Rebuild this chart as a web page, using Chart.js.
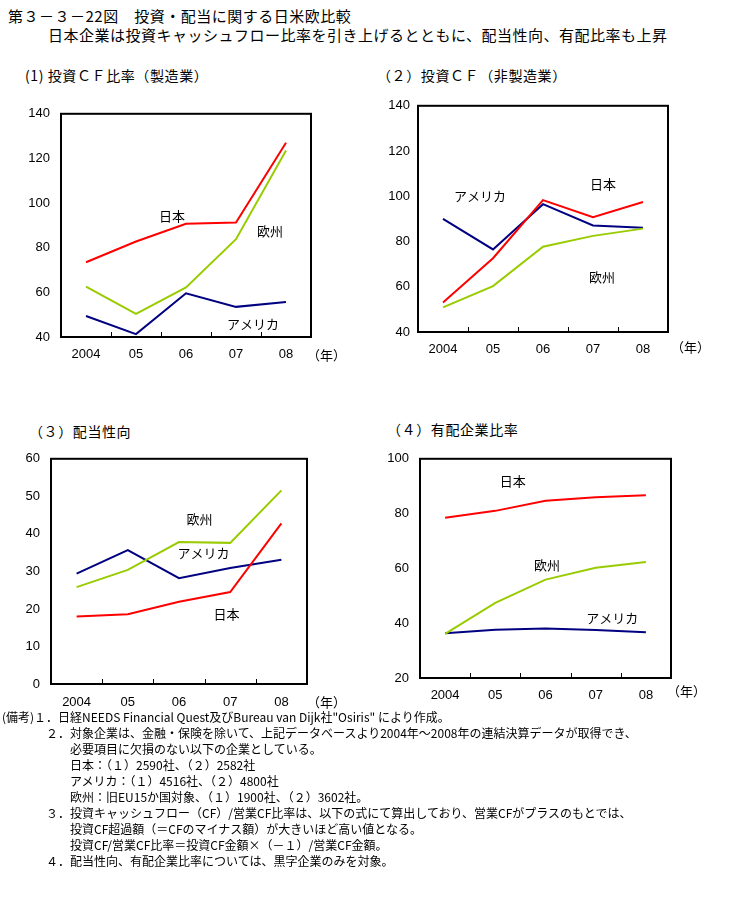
<!DOCTYPE html>
<html><head><meta charset="utf-8">
<script src="https://cdn.jsdelivr.net/npm/chart.js@4.4.0/dist/chart.umd.min.js"></script>
<style>
body{margin:0;background:#fff;width:731px;height:911px;position:relative;overflow:hidden;font-family:"Noto Sans CJK JP",sans-serif;color:#000}
.t{position:absolute;white-space:nowrap;line-height:1}
.h{font-size:15px;letter-spacing:0.5px}
.ct{font-size:14px;letter-spacing:0.6px}
.n{font-size:12px}
.y{font-size:13px}
canvas{position:absolute}
</style></head><body>
<div class="t h" style="left:8px;top:8px">第３－３－22図　投資・配当に関する日米欧比較</div>
<div class="t h" style="left:48px;top:27px">日本企業は投資キャッシュフロー比率を引き上げるとともに、配当性向、有配比率も上昇</div>

<div class="t ct" style="left:25px;top:68px">(1) 投資ＣＦ比率（製造業）</div>
<div class="t ct" style="left:377px;top:68px">（２）投資ＣＦ（非製造業）</div>
<div class="t ct" style="left:29px;top:424px">（３）配当性向</div>
<div class="t ct" style="left:387px;top:422px">（４）有配企業比率</div>

<canvas id="c1" width="345" height="280" style="left:0;top:95px"></canvas>
<canvas id="c2" width="330" height="280" style="left:360px;top:90px"></canvas>
<canvas id="c3" width="340" height="290" style="left:0;top:440px"></canvas>
<canvas id="c4" width="330" height="280" style="left:370px;top:440px"></canvas>

<div class="t y" style="left:307px;top:348px">（年）</div>
<div class="t y" style="left:671px;top:340px">（年）</div>
<div class="t y" style="left:307px;top:695px">（年）</div>
<div class="t y" style="left:667px;top:684px">（年）</div>

<div class="t n" style="left:2px;top:711px">(備考)１．日経NEEDS Financial Quest及びBureau van Dijk社"Osiris" により作成。</div>
<div class="t n" style="left:46px;top:727px">２．対象企業は、金融・保険を除いて、上記データベースより2004年～2008年の連結決算データが取得でき、</div>
<div class="t n" style="left:70px;top:743px">必要項目に欠損のない以下の企業としている。</div>
<div class="t n" style="left:70px;top:759px">日本：（１）2590社、（２）2582社</div>
<div class="t n" style="left:70px;top:775px">アメリカ：（１）4516社、（２）4800社</div>
<div class="t n" style="left:70px;top:791px">欧州：旧EU15か国対象、（１）1900社、（２）3602社。</div>
<div class="t n" style="left:46px;top:807px">３．投資キャッシュフロー（CF）/営業CF比率は、以下の式にて算出しており、営業CFがプラスのもとでは、</div>
<div class="t n" style="left:70px;top:823px">投資CF超過額（＝CFのマイナス額）が大きいほど高い値となる。</div>
<div class="t n" style="left:70px;top:839px">投資CF/営業CF比率＝投資CF金額×（－１）/営業CF金額。</div>
<div class="t n" style="left:46px;top:855px">４．配当性向、有配企業比率については、黒字企業のみを対象。</div>

<script>
// ---- data ----
const years = ['2004', '05', '06', '07', '08'];
const seriesNames = ['日本', '欧州', 'アメリカ'];

const cfMfgJapan  = [73.5, 82.8, 90.7, 91.3, 127.0];
const cfMfgEurope = [62.6, 50.4, 62.2, 83.8, 123.6];
const cfMfgUS     = [49.4, 41.3, 59.6, 53.5, 55.7];

const cfNonJapan  = [53.0, 72.6, 98.3, 90.7, 97.5];
const cfNonEurope = [50.9, 60.3, 77.7, 82.5, 85.7];
const cfNonUS     = [90.0, 76.5, 96.5, 87.1, 86.1];

const payoutJapan  = [18.0, 18.6, 21.9, 24.5, 42.8];
const payoutEurope = [25.8, 30.4, 37.8, 37.6, 51.6];
const payoutUS     = [29.4, 35.7, 28.2, 30.9, 33.1];

const divJapan  = [78.5, 81.0, 84.7, 86.0, 86.7];
const divEurope = [36.1, 47.4, 55.9, 60.2, 62.3];
const divUS     = [36.3, 37.6, 38.1, 37.5, 36.7];

const yTicks1 = {min: 40, max: 140, step: 20};
const yTicks2 = {min: 40, max: 140, step: 20};
const yTicks3 = {min: 0, max: 60, step: 10};
const yTicks4 = {min: 20, max: 100, step: 20};

// ---- styles ----
const colors = {'日本': '#ff0000', '欧州': '#99cc00', 'アメリカ': '#000080'};
const tickFont = {family: '"Liberation Sans Narrow","Liberation Sans",Arial,sans-serif', size: 13};

const framePlugin = {
  id: 'frame',
  afterDatasetsDraw(chart, args, opts) {
    const {ctx, chartArea: a, scales: {x, y}} = chart;
    ctx.save();
    ctx.strokeStyle = '#000';
    ctx.lineWidth = 2;
    ctx.strokeRect(a.left, a.top, a.right - a.left, a.bottom - a.top);
    ctx.lineWidth = 1;
    for (let i = 1; i < x.ticks.length; i++) {
      const px = Math.round((x.getPixelForTick(i - 1) + x.getPixelForTick(i)) / 2) + 0.5;
      ctx.beginPath();
      ctx.moveTo(px, a.bottom);
      ctx.lineTo(px, a.bottom - 5);
      ctx.stroke();
    }
    ctx.fillStyle = '#000';
    ctx.font = '13px "Noto Sans CJK JP", sans-serif';
    ctx.textAlign = 'center';
    ctx.textBaseline = 'middle';
    (opts.labels || []).forEach(l => {
      ctx.fillText(l.text, x.getPixelForValue(l.at[0]), y.getPixelForValue(l.at[1]));
    });
    ctx.restore();
  }
};

function makeChart(id, data, yt, geo, labels) {
  const datasets = seriesNames.map((name, i) => ({
    label: name,
    data: data[i],
    borderColor: colors[name],
    backgroundColor: colors[name],
    borderWidth: 2,
    pointRadius: 0,
    tension: 0,
    fill: false
  }));
  return new Chart(document.getElementById(id), {
    type: 'line',
    data: {labels: years, datasets},
    plugins: [framePlugin],
    options: {
      responsive: false,
      animation: false,
      events: [],
      layout: {padding: {top: geo.top, right: geo.right, left: 0, bottom: 0}},
      plugins: {
        legend: {display: false},
        tooltip: {enabled: false},
        frame: {labels}
      },
      scales: {
        x: {
          type: 'category',
          offset: true,
          grid: {display: false, drawTicks: false},
          border: {display: false},
          ticks: {font: tickFont, color: '#000', padding: geo.xpad, maxRotation: 0, autoSkip: false},
          afterFit: s => { s.height = geo.xh; }
        },
        y: {
          min: yt.min, max: yt.max,
          grid: {display: false, drawTicks: false},
          border: {display: false},
          ticks: {stepSize: yt.step, font: tickFont, color: '#000', padding: geo.ypad},
          afterFit: s => { s.width = geo.yw; }
        }
      }
    }
  });
}

makeChart('c1', [cfMfgJapan, cfMfgEurope, cfMfgUS], yTicks1,
  {top: 12, right: 34, xh: 38, yw: 61, xpad: 10, ypad: 11},
  [{text: '日本', at: [1.72, 94.3]}, {text: '欧州', at: [3.68, 87.4]}, {text: 'アメリカ', at: [3.34, 45.7]}]);

makeChart('c2', [cfNonJapan, cfNonEurope, cfNonUS], yTicks2,
  {top: 12, right: 22, xh: 38, yw: 58, xpad: 10, ypad: 8},
  [{text: 'アメリカ', at: [0.74, 100]}, {text: '日本', at: [3.2, 105.2]}, {text: '欧州', at: [3.18, 64.3]}]);

makeChart('c3', [payoutJapan, payoutEurope, payoutUS], yTicks3,
  {top: 13, right: 33, xh: 46, yw: 51, xpad: 11, ypad: 11},
  [{text: '欧州', at: [2.4, 43.9]}, {text: 'アメリカ', at: [2.48, 34.8]}, {text: '日本', at: [2.93, 18.7]}]);

makeChart('c4', [divJapan, divEurope, divUS], yTicks4,
  {top: 9, right: 29, xh: 42, yw: 50, xpad: 10, ypad: 11},
  [{text: '日本', at: [1.35, 92]}, {text: '欧州', at: [2.03, 61.2]}, {text: 'アメリカ', at: [3.33, 41.7]}]);
</script>
</body></html>
